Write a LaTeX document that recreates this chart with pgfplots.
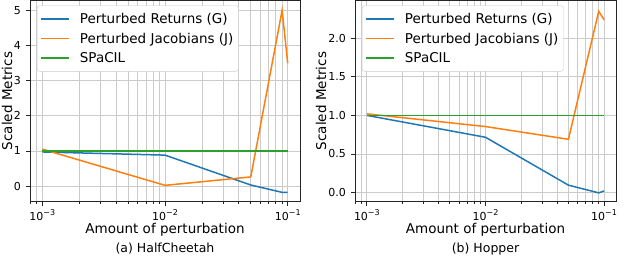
\documentclass[border=0pt]{standalone}
\usepackage{pgfplots}
\pgfplotsset{compat=1.18}
\usepackage{fontspec}
\setmainfont{DejaVu Sans}
\definecolor{tblue}{HTML}{1F77B4}
\definecolor{torange}{HTML}{FF7F0E}
\definecolor{tgreen}{HTML}{2CA02C}
\definecolor{gridc}{HTML}{CBCBCB}
\newcommand{\ex}[1]{10\raisebox{4.6pt}{\fontsize{8}{8}\selectfont #1}}
\pgfplotstableread{
x G J S
0.001 0.97 1.05 1
0.01 0.88 0.02 1
0.05 0.03 0.26 1
0.09 -0.18 5.00 1
0.1 -0.18 3.49 1
}\tabA
\pgfplotstableread{
x G J S
0.001 1.00 1.02 1
0.01 0.716 0.855 1
0.05 0.095 0.69 1
0.09 -0.005 2.35 1
0.1 0.02 2.24 1
}\tabB
\pgfplotsset{
  myax/.style={
    scale only axis,
    height=201pt,
    xmin=0.000794, xmax=0.1259,
    xtick={0.001,0.01,0.1},
    xticklabels={\ex{−3},\ex{−2},\ex{−1}},
    minor xtick={0.0008,0.0009,0.002,0.003,0.004,0.005,0.006,0.007,0.008,0.009,0.02,0.03,0.04,0.05,0.06,0.07,0.08,0.09},
    grid=both,
    major grid style={gridc, line width=0.8pt},
    minor grid style={gridc, line width=0.8pt},
    axis line style={black!85, line width=0.8pt},
    tick style={black!85, line width=0.8pt},
    major tick length=4pt, minor tick length=2.2pt,
    tick align=outside, tick pos=left,
    ticklabel style={font=\fontsize{11}{13}\selectfont},
    xticklabel style={anchor=base, yshift=-14.5pt},
    yticklabel style={anchor=east, xshift=-1.5pt},
    label style={font=\fontsize{13.5}{16}\selectfont},
    xlabel={Amount of perturbation},
    ylabel={Scaled Metrics},
    xlabel style={at={([yshift=-32pt]axis description cs:0.5,0)}, anchor=base, inner sep=0pt},
    legend cell align=left,
    legend style={at={([xshift=7pt,yshift=-5pt]axis description cs:0,1)}, anchor=north west,
      draw=gridc, rounded corners=2.5pt, fill=white, 
      font=\fontsize{13.5}{16}\selectfont, row sep=3.8pt, inner xsep=3pt, inner ysep=5.5pt,
      /tikz/every odd column/.append style={column sep=8pt}},
  }
}
\begin{document}
\begin{tikzpicture}
\useasboundingbox (0,0) rectangle (628pt,258pt);
\begin{semilogxaxis}[myax, at={(30pt,56.5pt)}, anchor=south west, width=270pt,
  ymin=-0.44, ymax=5.28, ytick={0,1,2,3,4,5},
  /pgf/number format/assume math mode=true,
  legend image code/.code={\draw[#1] (0pt,0pt) -- (28pt,0pt);},
  ylabel style={at={([xshift=-17.5pt]axis description cs:0,0.5)}, anchor=south, inner sep=0pt},
  ]
\addplot[tblue, line width=1.5pt] table[x=x,y=G]{\tabA};
\addplot[torange, line width=1.5pt] table[x=x,y=J]{\tabA};
\addplot[draw=tgreen, line width=1.7pt] table[x=x,y=S]{\tabA};
\legend{Perturbed Returns (G),Perturbed Jacobians (J),SPaCIL}
\end{semilogxaxis}
\node[font=\fontsize{12.5}{15}\selectfont, anchor=base] at (165pt,6pt) {(a) HalfCheetah};
\begin{semilogxaxis}[myax, at={(355pt,56.5pt)}, anchor=south west, width=261pt,
  ymin=-0.117, ymax=2.49, ytick={0,0.5,1,1.5,2},
  yticklabels={0.0,0.5,1.0,1.5,2.0},
  legend image code/.code={\draw[#1] (0pt,0pt) -- (28pt,0pt);},
  ylabel style={at={([xshift=-28.5pt]axis description cs:0,0.5)}, anchor=south, inner sep=0pt},
  ]
\addplot[tblue, line width=1.5pt] table[x=x,y=G]{\tabB};
\addplot[torange, line width=1.5pt] table[x=x,y=J]{\tabB};
\addplot[draw=tgreen, line width=1.7pt] table[x=x,y=S]{\tabB};
\legend{Perturbed Returns (G),Perturbed Jacobians (J),SPaCIL}
\end{semilogxaxis}
\node[font=\fontsize{12.5}{15}\selectfont, anchor=base] at (485.5pt,6pt) {(b) Hopper};
\end{tikzpicture}
\end{document}
